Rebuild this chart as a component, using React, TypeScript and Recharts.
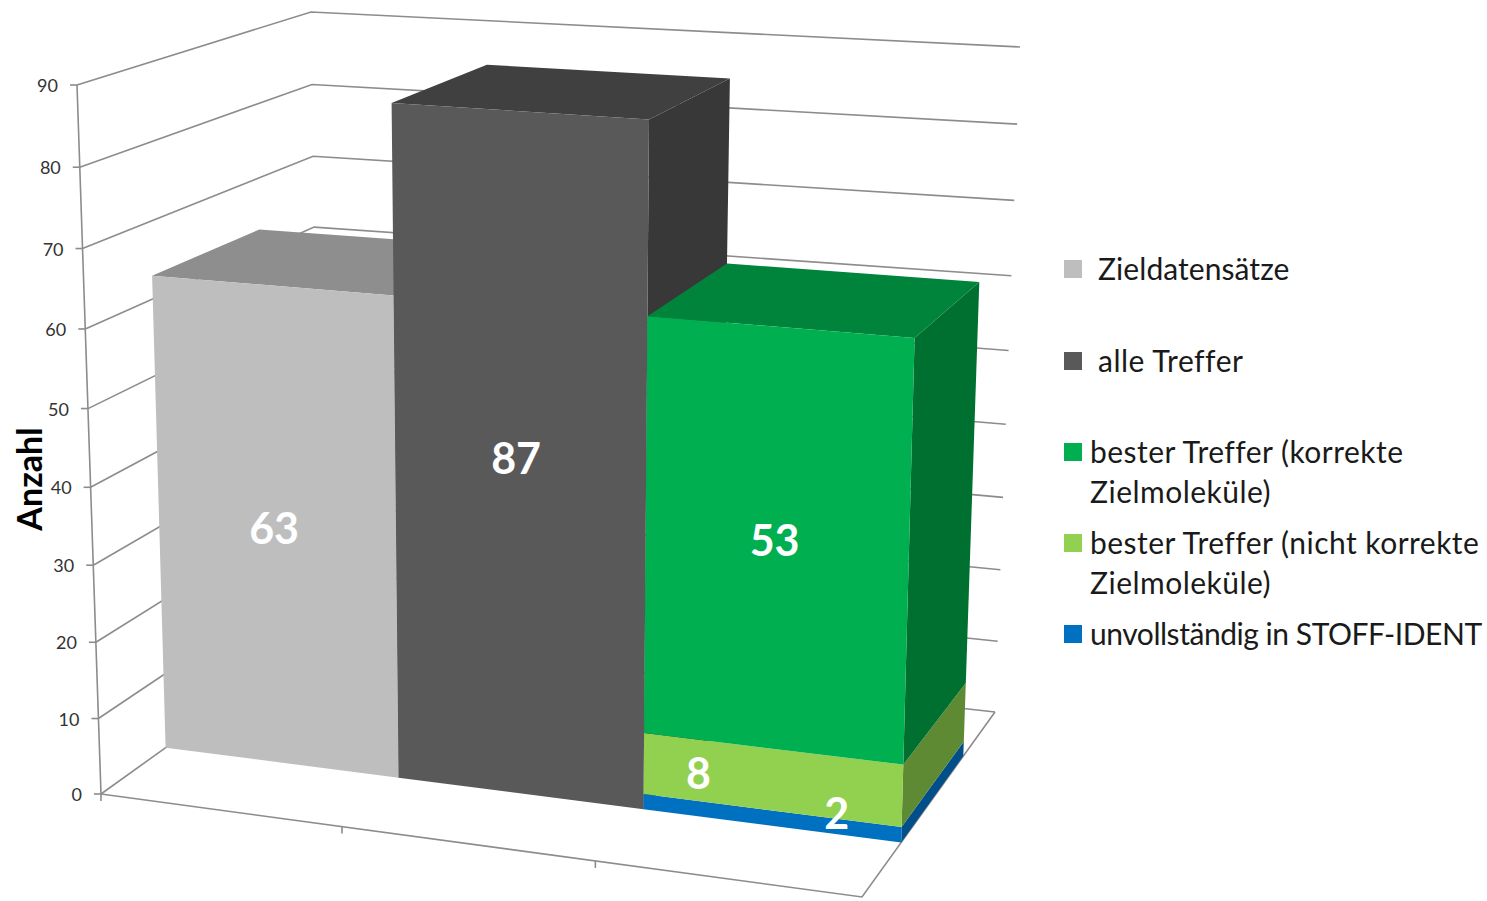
import React from "react";
import { BarChart, Bar, XAxis, YAxis, CartesianGrid, Legend, LabelList, Label } from "recharts";

const categories = ["Zieldatensätze", "alle Treffer", "bester Treffer"];
const zielValues = [63, null, null];
const alleValues = [null, 87, null];
const unvollstaendigValues = [null, null, 2];
const nichtKorrektValues = [null, null, 8];
const korrektValues = [null, null, 53];
const yTicks = [0, 10, 20, 30, 40, 50, 60, 70, 80, 90];

const data = categories.map((name, i) => ({
  name,
  ziel: zielValues[i],
  alle: alleValues[i],
  unvollstaendig: unvollstaendigValues[i],
  nichtKorrekt: nichtKorrektValues[i],
  korrekt: korrektValues[i],
}));

type Pt = [number, number];

const WIDTH = 1487;
const HEIGHT = 901;
const PLOT = { left: 100, top: 20, width: 900, height: 860 };
const X_AXIS_HEIGHT = 1;
const Y_MAX = 90;

// Screen corners of the chart box: front/back, bottom/top, left/right.
const BOX = {
  fbl: [101, 794] as Pt,
  fbr: [862, 897] as Pt,
  bbl: [320, 637] as Pt,
  bbr: [995, 712] as Pt,
  ftl: [77, 85] as Pt,
  ftr: [879, 138] as Pt,
  btl: [311, 12] as Pt,
  btr: [1020, 47] as Pt,
};
const BAR_FRONT = 0.295;
const BAR_BACK = 0.762;

const foreshorten = (t: number, a: number) => (a * t) / (1 + t * (a - 1));
const mix = (a: Pt, b: Pt, t: number): Pt => [a[0] + (b[0] - a[0]) * t, a[1] + (b[1] - a[1]) * t];

// Maps box coordinates (across, depth, height, all 0..1) to the screen.
function project(u: number, d: number, v: number): Pt {
  const U = foreshorten(u, 0.927);
  const V = foreshorten(v, 0.953);
  const bottom = mix(mix(BOX.fbl, BOX.fbr, U), mix(BOX.bbl, BOX.bbr, U), d);
  const top = mix(mix(BOX.ftl, BOX.ftr, U), mix(BOX.btl, BOX.btr, U), d);
  return mix(bottom, top, V);
}

const toU = (x: number) => (x - PLOT.left) / PLOT.width;
const toV = (y: number) => (PLOT.top + PLOT.height - y) / PLOT.height;
const pts = (list: Pt[]) => list.map((p) => `${p[0].toFixed(1)},${p[1].toFixed(1)}`).join(" ");

type Tones = { front: string; side: string; top?: string };
const tones: Record<string, Tones> = {
  ziel: { front: "#bebebe", side: "#8e8e8e", top: "#8e8e8e" },
  alle: { front: "#595959", side: "#383838", top: "#404040" },
  korrekt: { front: "#00b050", side: "#007030", top: "#00843c" },
  nichtKorrekt: { front: "#92d050", side: "#5f8a34" },
  unvollstaendig: { front: "#0070c0", side: "#004f8a" },
};

// Draws one flat bar rectangle from the scales as a box with front, side and top faces.
const boxShape = (key: string) => (props: any) => {
  const { x, y, width, height } = props;
  if (!height || !(height > 0)) return null;
  const t = tones[key];
  const u0 = toU(x);
  const u1 = toU(x + width);
  const v0 = toV(y + height);
  const v1 = toV(y);
  const front: Pt[] = [
    project(u0, BAR_FRONT, v1),
    project(u1, BAR_FRONT, v1),
    project(u1, BAR_FRONT, v0),
    project(u0, BAR_FRONT, v0),
  ];
  const side: Pt[] = [
    project(u1, BAR_FRONT, v1),
    project(u1, BAR_BACK, v1),
    project(u1, BAR_BACK, v0),
    project(u1, BAR_FRONT, v0),
  ];
  const top: Pt[] = [
    project(u0, BAR_FRONT, v1),
    project(u0, BAR_BACK, v1),
    project(u1, BAR_BACK, v1),
    project(u1, BAR_FRONT, v1),
  ];
  return (
    <g>
      <polygon points={pts(side)} fill={t.side} />
      {t.top && <polygon points={pts(top)} fill={t.top} />}
      <polygon points={pts(front)} fill={t.front} />
    </g>
  );
};

// Hand-placed nudges for the value labels, relative to the centre of each front face.
const labelNudge: Record<string, Pt> = {
  ziel: [-2, 0],
  alle: [-3, -3],
  korrekt: [-1, -1],
  nichtKorrekt: [-73, -7],
  unvollstaendig: [66, -5],
};

const valueLabel = (key: string) => (props: any) => {
  const { x, y, width, height, value } = props;
  if (value === null || value === undefined) return null;
  const c = project(toU(x + width / 2), BAR_FRONT, toV(y + height / 2));
  const [dx, dy] = labelNudge[key];
  return (
    <text
      x={c[0] + dx}
      y={c[1] + dy}
      textAnchor="middle"
      dominantBaseline="central"
      fontFamily="Lato"
      fontWeight={700}
      fontSize={43}
      fill="#ffffff"
    >
      {value}
    </text>
  );
};

const GRID = "#8c8c8c";

// One height gridline runs along the left and back walls; the zero line also outlines the floor.
const gridLine = (p: any) => {
  const v = toV(p.y1);
  const wall: Pt[] = [project(0, 0, v), project(0, 1, v), project(1, 1, v)];
  const isFloor = v < 0.001;
  return (
    <g key={p.key}>
      <polyline points={pts(wall)} fill="none" stroke={GRID} strokeWidth={1.6} />
      {isFloor && (
        <>
          <polyline
            points={pts([project(0, 0, 0), project(1, 0, 0), project(1, 1, 0)])}
            fill="none"
            stroke={GRID}
            strokeWidth={1.6}
          />
          <polyline points={pts([project(0, 0, 0), project(0, 0, 1)])} fill="none" stroke={GRID} strokeWidth={1.6} />
        </>
      )}
    </g>
  );
};

const yTick = (p: any) => {
  const a = project(0, 0, toV(p.y));
  return (
    <g>
      <line x1={a[0] - 7} y1={a[1]} x2={a[0]} y2={a[1]} stroke={GRID} strokeWidth={1.6} />
      <text x={a[0] - 19} y={a[1]} textAnchor="end" dominantBaseline="central" fontFamily="Lato" fontSize={18} fill="#333333">
        {p.payload.value}
      </text>
    </g>
  );
};

// Ticks sit on the boundaries between categories, not on the band centres.
const xTick = (p: any) => {
  const a = project(toU(p.x) - 1 / 6, 0, 0);
  return <line x1={a[0]} y1={a[1]} x2={a[0]} y2={a[1] + 7} stroke={GRID} strokeWidth={1.6} />;
};

const legendNames = [
  "Zieldatensätze",
  "alle Treffer",
  "bester Treffer (korrekte Zielmoleküle)",
  "bester Treffer (nicht korrekte Zielmoleküle)",
  "unvollständig in STOFF-IDENT",
];
const legendRows = [
  { top: 0, indent: 34, spacing: 0.07 },
  { top: 91.5, indent: 34, spacing: 0.5 },
  { top: 183, indent: 26, spacing: 0.47 },
  { top: 274, indent: 26, spacing: 0.47 },
  { top: 365, indent: 26, spacing: -0.46 },
];

const legendContent = (props: any) => {
  const items = props.payload || [];
  return (
    <div style={{ position: "absolute", left: 0, top: 0 }}>
      {legendNames.map((name, i) => {
        const item = items.find((it: any) => it.value === name);
        const row = legendRows[i];
        const cut = name.indexOf(" Ziel");
        const lines = cut > 0 ? [name.slice(0, cut), name.slice(cut + 1)] : [name];
        return (
          <div key={name} style={{ position: "absolute", left: 0, top: row.top }}>
            <div
              style={{
                position: "absolute",
                left: 0,
                top: 10,
                width: 18,
                height: 18,
                background: item ? item.color : "#000",
              }}
            />
            <div
              style={{
                position: "absolute",
                left: row.indent,
                top: -1,
                whiteSpace: "nowrap",
                fontFamily: "Lato",
                fontSize: 30,
                letterSpacing: row.spacing,
                lineHeight: "39.5px",
                color: "#1a1a1a",
              }}
            >
              {lines.map((l) => (
                <div key={l}>{l}</div>
              ))}
            </div>
          </div>
        );
      })}
    </div>
  );
};

const axisTitle = () => (
  <text
    transform="translate(28,479) rotate(-90)"
    textAnchor="middle"
    dominantBaseline="central"
    fontFamily="Lato"
    fontWeight={700}
    fontSize={34}
    fill="#000000"
  >
    Anzahl
  </text>
);

const seriesList = [
  { key: "ziel", name: legendNames[0] },
  { key: "alle", name: legendNames[1] },
  { key: "unvollstaendig", name: legendNames[4] },
  { key: "nichtKorrekt", name: legendNames[3] },
  { key: "korrekt", name: legendNames[2] },
];

export default function App() {
  return (
    <div style={{ position: "absolute", left: 0, top: 0, width: WIDTH, height: HEIGHT, overflow: "hidden", background: "#fff" }}>
      <BarChart
        width={WIDTH}
        height={HEIGHT}
        data={data}
        barCategoryGap={0}
        margin={{
          top: PLOT.top,
          left: 0,
          right: WIDTH - PLOT.left - PLOT.width,
          bottom: HEIGHT - PLOT.top - PLOT.height - X_AXIS_HEIGHT,
        }}
      >
        <CartesianGrid horizontal={gridLine} vertical={false} />
        <XAxis dataKey="name" height={X_AXIS_HEIGHT} axisLine={false} tickLine={false} tick={xTick} interval={0} />
        <YAxis
          width={PLOT.left}
          domain={[0, Y_MAX]}
          ticks={yTicks}
          interval={0}
          axisLine={false}
          tickLine={false}
          tick={yTick}
        >
          <Label content={axisTitle} />
        </YAxis>
        <Legend
          content={legendContent}
          wrapperStyle={{ left: 1064, top: 250, width: 0, height: 0 }}
        />
        {seriesList.map((s) => (
          <Bar
            key={s.key}
            dataKey={s.key}
            name={s.name}
            stackId="all"
            fill={tones[s.key].front}
            shape={boxShape(s.key)}
            isAnimationActive={false}
          >
            <LabelList dataKey={s.key} content={valueLabel(s.key)} />
          </Bar>
        ))}
      </BarChart>
    </div>
  );
}
